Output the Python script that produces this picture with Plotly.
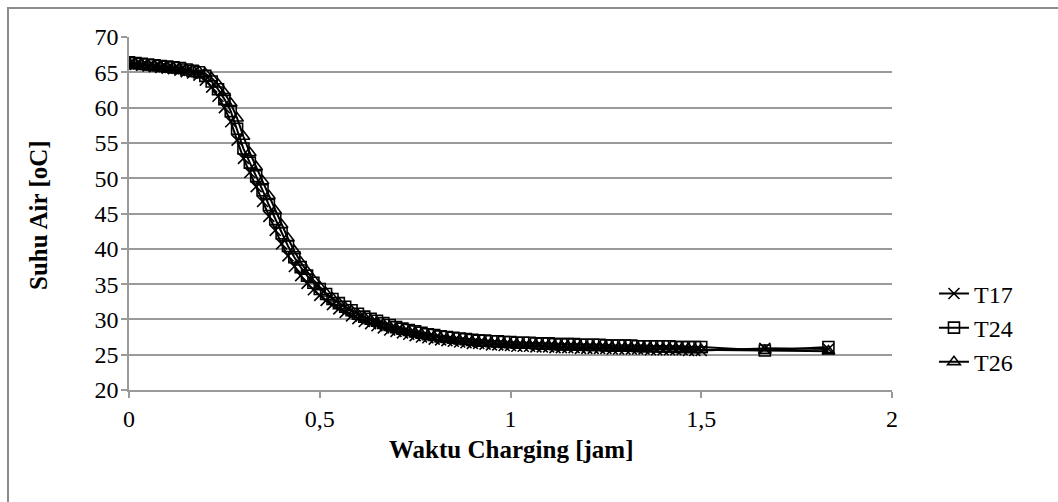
import plotly.graph_objects as go

# Waktu pengukuran (menit sejak charging dimulai)
menit = [0, 1, 2, 3, 4, 5, 6, 7, 8, 9,
         10, 11, 12, 13, 14, 15, 16, 17, 18, 19,
         20, 21, 22, 23, 24, 25, 26, 27, 28, 29,
         30, 31, 32, 33, 34, 35, 36, 37, 38, 39,
         40, 41, 42, 43, 44, 45, 46, 47, 48, 49,
         50, 51, 52, 53, 54, 55, 56, 57, 58, 59,
         60, 61, 62, 63, 64, 65, 66, 67, 68, 69,
         70, 71, 72, 73, 74, 75, 76, 77, 78, 79,
         80, 81, 82, 83, 84, 85, 86, 87, 88, 89, 90,
         100, 110]
waktu_jam = [m / 60 for m in menit]

t17 = [66.2, 66.1, 66.0, 65.9, 65.8, 65.7, 65.6, 65.5, 65.3, 65.1,
       64.9, 64.6, 63.9, 62.9, 61.6, 60.0, 58.0, 55.4, 52.8, 50.8,
       48.8, 46.7, 44.6, 42.6, 40.7, 39.0, 37.5, 36.2, 35.1, 34.2,
       33.4, 32.7, 32.1, 31.5, 31.0, 30.5, 30.1, 29.7, 29.4, 29.1,
       28.8, 28.5, 28.3, 28.1, 27.9, 27.7, 27.5, 27.4, 27.2, 27.1,
       27.0, 26.9, 26.8, 26.7, 26.6, 26.6, 26.5, 26.4, 26.4, 26.3,
       26.3, 26.2, 26.2, 26.2, 26.1, 26.1, 26.1, 26.0, 26.0, 26.0,
       26.0, 25.9, 25.9, 25.9, 25.9, 25.9, 25.8, 25.8, 25.8, 25.8,
       25.8, 25.8, 25.7, 25.7, 25.7, 25.7, 25.7, 25.7, 25.6, 25.6, 25.6,
       25.9, 25.8]

t24 = [66.4, 66.3, 66.2, 66.1, 66.0, 65.9, 65.8, 65.7, 65.6, 65.4,
       65.2, 65.0, 64.5, 63.7, 62.6, 61.2, 59.5, 57.0, 54.2, 52.2,
       50.3, 48.3, 46.2, 44.2, 42.2, 40.4, 38.8, 37.4, 36.2, 35.2,
       34.3, 33.6, 32.9, 32.3, 31.8, 31.3, 30.8, 30.4, 30.1, 29.8,
       29.5, 29.2, 28.9, 28.7, 28.5, 28.3, 28.1, 27.9, 27.8, 27.6,
       27.5, 27.4, 27.3, 27.2, 27.1, 27.0, 27.0, 26.9, 26.9, 26.8,
       26.8, 26.7, 26.7, 26.7, 26.6, 26.6, 26.6, 26.5, 26.5, 26.5,
       26.5, 26.4, 26.4, 26.4, 26.4, 26.3, 26.3, 26.3, 26.3, 26.3,
       26.2, 26.2, 26.2, 26.2, 26.2, 26.2, 26.1, 26.1, 26.1, 26.1, 26.1,
       25.6, 26.1]

t26 = [66.3, 66.2, 66.1, 66.0, 65.9, 65.8, 65.7, 65.6, 65.5, 65.4,
       65.3, 65.1, 64.8, 64.2, 63.3, 62.1, 60.6, 58.5, 55.9, 53.6,
       51.6, 49.6, 47.5, 45.4, 43.4, 41.5, 39.7, 38.1, 36.8, 35.6,
       34.6, 33.7, 33.0, 32.3, 31.7, 31.2, 30.7, 30.3, 29.9, 29.6,
       29.3, 29.0, 28.7, 28.5, 28.3, 28.1, 27.9, 27.7, 27.5, 27.4,
       27.2, 27.1, 27.0, 26.9, 26.8, 26.7, 26.6, 26.6, 26.5, 26.5,
       26.4, 26.4, 26.3, 26.3, 26.3, 26.2, 26.2, 26.2, 26.1, 26.1,
       26.1, 26.1, 26.0, 26.0, 26.0, 26.0, 26.0, 25.9, 25.9, 25.9,
       25.9, 25.9, 25.9, 25.8, 25.8, 25.8, 25.8, 25.8, 25.8, 25.7, 25.7,
       25.6, 25.5]

series = [
    ("T17", t17, "x-thin-open"),
    ("T24", t24, "square-open"),
    ("T26", t26, "triangle-up-open"),
]

FONT = "Liberation Serif, Times New Roman, serif"
GRID = "#9a9a9a"

fig = go.Figure()
for nama, nilai, simbol in series:
    fig.add_trace(go.Scatter(
        x=waktu_jam, y=nilai, name=nama, mode="lines+markers",
        line=dict(color="black", width=2),
        marker=dict(symbol=simbol, size=11, color="black",
                    line=dict(color="black", width=1.6)),
        legendgroup=nama,
    ))

fig.update_layout(
    width=1058, height=502,
    margin=dict(l=129, r=166, t=37, b=112),
    paper_bgcolor="white", plot_bgcolor="white",
    font=dict(family=FONT, size=24, color="black"),
    separators=",.",
    showlegend=True,
    legend=dict(x=1.055, xanchor="left", y=0.176, yanchor="middle",
                font=dict(size=24), tracegroupgap=0,
                traceorder="grouped", bgcolor="rgba(0,0,0,0)"),
    xaxis=dict(
        range=[0, 2], dtick=0.5, tick0=0,
        showgrid=False, zeroline=False,
        showline=True, linecolor=GRID, linewidth=1.5,
        ticks="outside", ticklen=6, tickcolor=GRID, tickwidth=1.5,
        tickfont=dict(size=24),
    ),
    yaxis=dict(
        range=[20, 70], dtick=5, tick0=20,
        showgrid=True, gridcolor=GRID, gridwidth=1.5,
        zeroline=False,
        showline=True, linecolor=GRID, linewidth=1.5,
        ticks="outside", ticklen=6, tickcolor=GRID, tickwidth=1.5,
        tickfont=dict(size=24), ticklabelstandoff=-2,
    ),
    annotations=[
        dict(text="<b>Waktu Charging [jam]</b>", xref="paper", yref="paper",
             x=0.5, y=(390 - 450) / 353, xanchor="center", yanchor="middle",
             showarrow=False, font=dict(size=25)),
        dict(text="<b>Suhu Air [oC]</b>", xref="paper", yref="paper",
             x=(38 - 129) / 763, y=(390 - 215) / 353, xanchor="center",
             yanchor="middle", textangle=-90, showarrow=False,
             font=dict(size=25)),
    ],
    shapes=[dict(
        type="rect", xref="paper", yref="paper",
        x0=(8 - 129) / 763, x1=(1075 - 129) / 763,
        y0=(390 - 520) / 353, y1=(390 - 8) / 353,
        line=dict(color="#8c8c8c", width=2), fillcolor="rgba(0,0,0,0)",
        layer="below",
    )],
)

fig.write_html("out.html")
